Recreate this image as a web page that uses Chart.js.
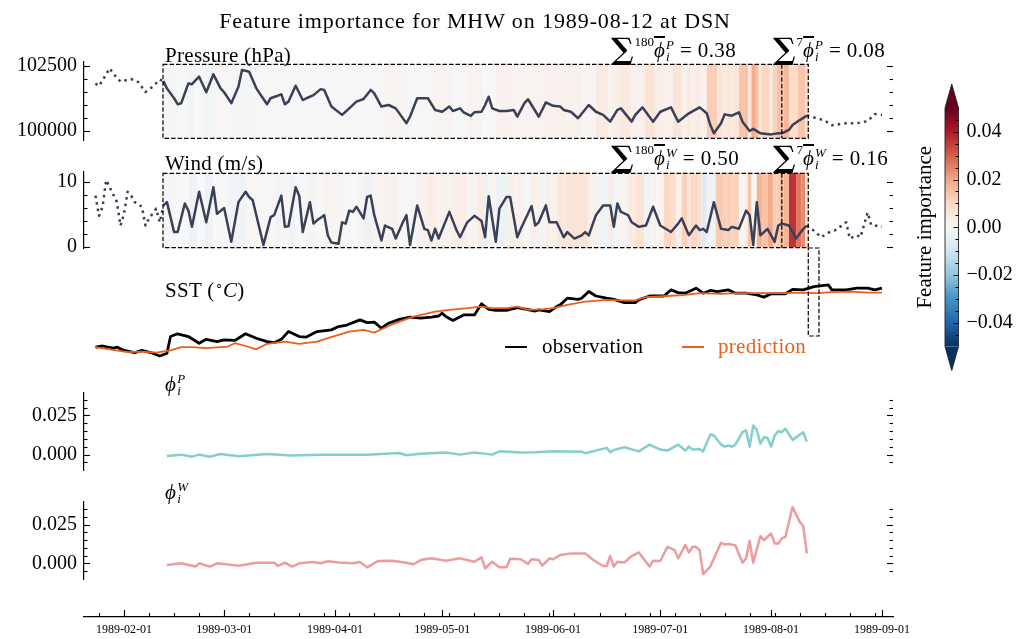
<!DOCTYPE html>
<html><head><meta charset="utf-8">
<script src="https://cdn.jsdelivr.net/npm/chart.js@4.4.1/dist/chart.umd.min.js"></script>
<style>
html,body{margin:0;padding:0;background:#fff;}
#root{position:relative;width:1029px;height:639px;overflow:hidden;font-family:'Liberation Serif','Times New Roman',serif;color:#000;}
canvas{position:absolute;}
.txt{position:absolute;white-space:nowrap;font-size:21px;line-height:21px;letter-spacing:0.3px;z-index:5;}
.title{font-size:22px;line-height:22px;letter-spacing:0.9px;}
.sum{position:absolute;white-space:nowrap;font-size:21px;line-height:30px;height:30px;z-index:5;}
.big{font-family:'DejaVu Serif','Liberation Serif',serif;font-weight:bold;font-size:30px;line-height:0;vertical-align:-2px;}
.sup{font-size:13px;vertical-align:11px;margin-left:1px;}
.phi{font-style:italic;text-decoration:overline;text-decoration-thickness:1.5px;}
.ss{display:inline-block;font-size:13px;font-style:italic;line-height:12px;vertical-align:-4px;margin-left:1px;}
.eq{margin-left:6px;letter-spacing:0.4px;}
.lg{position:absolute;height:0;z-index:5;}
</style></head><body><div id="root">
<div class="txt title" id="title" style="left:475px;top:10px;transform:translateX(-50%);">Feature importance for MHW on 1989-08-12 at DSN</div>
<div class="txt" style="left:165px;top:45px;">Pressure (hPa)</div>
<div class="txt" style="left:165px;top:153px;">Wind (m/s)</div>
<div class="txt" style="left:165px;top:274px;">SST (<span style="font-size:13px;vertical-align:8px;">∘</span><i>C</i>)</div>
<div class="txt" style="left:165px;top:373px;"><i>ϕ</i><span class="ss">P<br>i</span></div>
<div class="txt" style="left:165px;top:481px;"><i>ϕ</i><span class="ss">W<br>i</span></div>

<div class="sum" style="left:611px;top:27px;"><span class="big">∑</span><span class="sup">180</span><span class="phi">ϕ</span><span class="ss">P<br>i</span><span class="eq">= 0.38</span></div>
<div class="sum" style="left:773px;top:27px;"><span class="big">∑</span><span class="sup">7</span><span class="phi">ϕ</span><span class="ss">P<br>i</span><span class="eq">= 0.08</span></div>
<div class="sum" style="left:611px;top:135px;"><span class="big">∑</span><span class="sup">180</span><span class="phi">ϕ</span><span class="ss">W<br>i</span><span class="eq">= 0.50</span></div>
<div class="sum" style="left:773px;top:135px;"><span class="big">∑</span><span class="sup">7</span><span class="phi">ϕ</span><span class="ss">W<br>i</span><span class="eq">= 0.16</span></div>

<div class="lg" style="left:505px;top:346px;width:22px;border-top:2.5px solid #000;"></div>
<div class="txt" style="left:542px;top:336px;">observation</div>
<div class="lg" style="left:682px;top:346px;width:22px;border-top:2.5px solid #e8601c;"></div>
<div class="txt" style="left:718px;top:336px;color:#e8601c;">prediction</div>

<canvas id="cP" width="1029" height="138" style="left:0;top:32px;"></canvas>
<canvas id="cW" width="1029" height="136" style="left:0;top:142px;"></canvas>
<canvas id="cS" width="1029" height="177" style="left:0;top:218px;"></canvas>
<canvas id="cFP" width="1029" height="137" style="left:0;top:363px;"></canvas>
<canvas id="cFW" width="1029" height="137" style="left:0;top:472px;"></canvas>
<canvas id="cX" width="1029" height="79" style="left:0;top:560px;"></canvas>
<canvas id="cCB" width="169" height="340" style="left:860px;top:60px;"></canvas>
</div>
<script>
// ---------------- data (days counted from 1989-02-01) ----------------
const monthTickLabels = ['1989-02-01','1989-03-01','1989-04-01','1989-05-01','1989-06-01','1989-07-01','1989-08-01','1989-09-01'];
const pressureTicks = [100000, 102500];
const windTicks = [0, 10];
const phiTicks = [0, 0.025];
const colorbarTicks = [-0.04, -0.02, 0, 0.02, 0.04];
const sumLabels = ['0.38', '0.08', '0.50', '0.16'];

const pressureBeforeDays = [-8,-7,-4,-3,-1,2,4,6,8,10,11];
const pressureBefore = [101830,101730,102410,102200,101900,102000,101880,101500,101700,101980,101920];
const pressureDays = [11,12,14,15,16,18,19,21,23,25,27,28,30,32,33,35,37,40,41,44,45,46,48,50,51,53,55,56,58,61,63,65,67,69,70,72,74,76,79,80,82,85,87,89,91,92,94,95,97,98,100,101,102,103,105,107,109,110,112,113,114,116,118,120,122,123,125,127,130,132,134,136,138,139,142,143,145,148,150,153,155,158,161,163,164,165,167,168,170,172,173,175,176,178,181,183,184,186,187,189,191];
const pressure = [101920,101640,101260,101030,101070,101830,101800,102090,101490,102180,101640,101490,101070,101700,102350,102280,101640,101030,101260,101410,101030,101130,101740,101190,101260,101380,101610,101580,100940,100620,100870,101130,101230,101580,101450,100940,101000,100870,100300,100550,101260,101260,100810,100740,100940,100770,100870,100720,100580,100720,100740,101000,101320,100870,100770,100770,100810,100550,101070,101220,101000,100550,101100,100970,100940,100810,100740,100490,101000,100740,100620,100360,100810,100870,100360,100620,100910,100360,100740,100910,100360,100680,100910,100680,100230,99910,100300,100640,100590,100720,100360,100000,100080,99910,99870,99910,99910,100040,100230,100420,100590];
const pressureAfterDays = [191,193,196,198,202,205,208,210,212];
const pressureAfter = [100590,100520,100400,100220,100300,100300,100380,100650,100620];

const windBeforeDays = [-8,-7,-6,-5,-4,-2,-1,0,1,2,3,5,6,7,9,10,11];
const windBefore = [7.9,4.8,6.2,10.3,9.2,6.9,3.3,5.1,8.5,7.9,6.9,6.2,3.3,4.4,5.9,3.8,6.4];
const windDays = [11,12,14,15,17,18,19,21,23,25,26,28,30,32,34,35,36,39,41,42,44,45,46,48,49,50,52,53,54,56,57,58,60,61,62,63,64,65,67,68,69,70,72,73,75,76,78,79,80,82,84,85,86,87,88,91,93,94,96,98,100,101,102,104,105,107,108,110,111,114,115,116,118,119,121,123,124,126,128,129,130,132,134,136,137,138,139,141,142,144,146,148,150,153,155,156,158,160,161,162,163,165,167,169,170,172,174,175,176,177,178,180,182,183,184,186,188,190,191];
const wind = [6.4,6.9,2.3,2.3,6.7,5.6,3.1,8.5,3.8,9.2,5.1,6.0,0.8,6.9,8.5,7.7,7.2,0.3,4.6,4.9,7.9,3.1,3.2,9.2,7.9,2.3,6.9,3.6,4.1,4.9,1.8,0.7,0.5,3.8,3.6,5.6,5.4,6.2,4.4,7.7,7.9,4.9,1.0,3.3,2.8,1.3,3.8,4.9,0.3,6.4,2.8,2.6,1.0,2.8,1.3,5.4,2.6,1.5,3.8,4.8,4.0,1.5,7.8,0.8,5.9,7.7,7.7,1.5,2.8,6.3,3.3,3.8,6.4,3.8,3.8,1.5,2.3,1.3,1.8,2.3,1.8,4.9,6.4,6.4,3.1,6.7,5.4,4.9,3.8,3.1,3.3,6.2,3.3,2.3,3.6,4.4,1.8,3.3,2.6,2.8,2.3,6.9,2.8,2.6,3.1,2.8,5.6,4.9,0.3,6.9,1.8,2.8,0.8,3.3,3.6,3.3,1.3,2.8,3.3];
const windAfterDays = [191,193,195,197,199,202,203,205,206,208,209,212];
const windAfter = [3.3,2.5,1.5,2.2,2.6,3.8,1.3,1.8,1.5,5.3,3.4,3.1];

const sstObsDays = [-8,-6,-3,-2,0,3,5,8,10,12,13,15,18,21,23,26,28,31,34,37,40,42,44,46,49,51,54,58,60,62,66,68,70,72,74,77,80,83,86,88,89,90,92,95,98,100,102,104,107,110,115,116,119,121,122,124,127,128,130,132,135,137,140,143,144,147,151,153,155,157,160,162,164,166,169,171,174,177,179,181,184,185,187,190,193,197,198,202,205,208,210,212];
const sstObs = [5.6,5.8,5.4,5.6,5.0,4.6,5.0,4.5,4.0,4.5,7.5,8.0,7.5,6.3,7.0,6.6,6.9,6.8,8.0,7.2,6.6,6.4,7.0,8.4,7.5,7.4,8.4,8.7,9.3,9.5,10.5,10.0,10.1,9.0,9.9,10.6,11.0,10.8,11.0,11.2,11.7,11.1,10.4,11.4,11.4,13.4,12.4,12.2,12.2,12.7,12.1,12.3,12.0,12.9,13.2,14.4,14.2,14.4,15.6,14.8,14.4,14.2,13.6,13.6,14.1,14.8,14.8,15.9,15.4,15.3,16.2,15.3,15.8,15.6,15.9,15.3,15.3,15.0,14.6,15.2,15.2,15.2,16.0,15.9,16.5,16.8,15.9,15.9,16.2,16.2,15.9,16.2];
const sstPredDays = [-8,-4,1,5,9,13,16,19,23,29,31,34,37,40,45,49,54,57,60,63,67,70,74,77,81,87,91,96,100,103,107,110,113,117,120,124,129,135,139,143,146,152,157,161,167,172,178,184,189,194,198,203,208,212];
const sstPred = [5.6,5.2,4.7,4.8,4.6,5.0,5.6,5.6,5.4,5.7,6.3,5.8,5.2,6.2,6.6,6.2,6.6,7.2,7.8,8.4,8.7,8.2,9.4,10.2,11.1,12.0,12.3,12.6,12.9,12.6,12.6,12.9,12.3,12.4,12.6,13.2,13.8,14.1,14.0,14.0,14.6,14.8,15.0,15.3,15.2,15.3,15.3,15.3,15.4,15.3,15.5,15.6,15.4,15.4];

const phiPDays = [12,16,19,21,24,27,32,40,47,55,68,77,79,83,90,94,98,103,105,111,115,120,128,129,135,136,137,140,144,147,150,152,155,157,158,159,161,162,164,165,167,168,169,170,171,173,174,175,176,177,178,179,180,181,182,183,184,185,187,190,191];
const phiP = [-0.0008,0,-0.0013,0,-0.0013,0.0004,-0.001,0.0004,-0.0006,0,0,0.001,-0.0004,0.0005,0.0013,0,0.0013,0,0.0021,0.0013,0.0015,0.0021,0.0019,0.0009,0.0043,0.0015,0.003,0.0047,0.0021,0.0064,0.0032,0.0026,0.0064,0.0026,0.0051,0.0032,0.0036,0.0021,0.0128,0.0122,0.0064,0.0051,0.0058,0.0051,0.0064,0.0143,0.0154,0.0051,0.0186,0.0158,0.0069,0.0111,0.0107,0.0051,0.0122,0.015,0.0143,0.0165,0.0094,0.0143,0.0083];
const phiWDays = [12,16,20,21,24,26,32,37,42,43,45,47,49,53,55,57,60,64,66,68,71,75,79,81,83,86,90,94,98,100,101,103,105,107,108,111,113,114,116,117,119,120,122,125,129,131,134,135,136,137,138,140,142,144,147,148,150,152,154,155,157,158,159,160,161,162,164,167,168,169,171,173,174,175,176,178,179,181,182,183,184,185,187,189,190,191];
const phiW = [-0.0011,0,-0.0021,0,-0.0021,0,-0.0015,0.0004,0.0004,-0.0017,0.0004,-0.0021,0,0.0008,0,0.0013,0.0006,0,0.0008,-0.0026,0.0015,0.0017,0.0004,-0.0006,0.0021,0.0032,0.0017,0.0032,0.001,0.0038,-0.0032,0.001,-0.0026,-0.0026,0.003,0.0026,-0.0004,0.0026,0.0021,-0.0015,0.0032,0.0026,0.0053,0.0064,0.0064,0.0026,-0.0017,-0.0017,0.0047,-0.0021,0.001,0.0006,0.0047,0.007,-0.0021,0.0017,0.0015,0.0106,0.0085,0.0032,0.0117,0.007,0.0106,0.0106,0.0085,-0.0069,-0.0021,0.0132,0.0122,0.0124,0.0117,0.0004,0.0032,0.0145,0.0004,0.0175,0.0149,0.0192,0.0128,0.0128,0.016,0.017,0.0363,0.0267,0.024,0.0064];

// window markers (days from 1989-02-01)
const windowStart = 10.9, windowEnd = 191.4, lastWeekStart = 184.0;
const targetStart = 191.4, targetEnd = 194.4;

// ---------------- helpers ----------------
const FONT = "'Liberation Serif','Times New Roman',serif";
const XMIN = -11.2, XMAX = 215.1;
const LINE = '#3a4157', OBS = '#000000', PRED = '#e8601c', PC = '#84cfcc', WC = '#ec9c9c';
const RDBU_R = ['#053061','#2166ac','#4393c3','#92c5de','#d1e5f0','#f7f7f7','#fddbc7','#f4a582','#d6604d','#b2182b','#67001f'];
const VMIN = -0.05, VMAX = 0.05;
function hex2rgb(h){return [1,3,5].map(i=>parseInt(h.substr(i,2),16));}
function cmap(v){
  let t=(v-VMIN)/(VMAX-VMIN); t=Math.max(0,Math.min(1,t));
  const s=t*10, i=Math.min(9,Math.floor(s)), f=s-i;
  const a=hex2rgb(RDBU_R[i]), b=hex2rgb(RDBU_R[i+1]);
  return 'rgb('+a.map((c,k)=>Math.round(c+(b[k]-c)*f)).join(',')+')';
}
const pts = (d,v)=>d.map((x,i)=>({x:x,y:v[i]}));
function cells(days){
  return days.map((d,i)=>({x:[i===0?windowStart:(days[i-1]+d)/2, i===days.length-1?windowEnd:(d+days[i+1])/2], y:'c'}));
}
const dayOf = s => (Date.UTC(+s.slice(0,4), +s.slice(5,7)-1, +s.slice(8,10)) - Date.UTC(1989,1,1))/86400000;
const monthDays = monthTickLabels.map(dayOf);
const weekDays = []; for(let d=-7; d<=XMAX; d+=7) weekDays.push(d);

// inward tick marks
const inTicks = {
  id:'inTicks',
  afterDraw(chart, args, o){
    if(!o || !o.enabled) return;
    const c=chart.ctx, a=chart.chartArea;
    c.save(); c.strokeStyle='#000'; c.lineWidth=1.1; c.setLineDash([]);
    const ln=(x1,y1,x2,y2)=>{c.beginPath();c.moveTo(x1,y1);c.lineTo(x2,y2);c.stroke();};
    if(o.y){
      const ys=chart.scales[o.yId||'y'];
      const draw=(arr,len)=>arr.forEach(v=>{const p=Math.round(ys.getPixelForValue(v))+0.5;
        if(o.left) ln(a.left,p,a.left+len,p);
        if(o.right) ln(a.right,p,a.right-len,p);});
      draw(o.y.major,o.majLen||6); draw(o.y.minor,o.minLen||3.5);
    }
    if(o.x){
      const xs=chart.scales.x;
      const draw=(arr,len)=>arr.forEach(v=>{const p=Math.round(xs.getPixelForValue(v))+0.5; ln(p,a.bottom,p,a.bottom-len);});
      draw(o.x.major,7); draw(o.x.minor,4);
    }
    c.restore();
  }
};
// dashed boxes marking the window
const deco = {
  id:'deco',
  afterDatasetsDraw(chart, args, o){
    if(!o || !o.enabled) return;
    const c=chart.ctx, a=chart.chartArea, xs=chart.scales.x;
    c.save(); c.strokeStyle='#000'; c.lineWidth=1.2; c.setLineDash([4.5,2]);
    if(o.box){
      const h=(a.bottom-a.top)*o.box.frac, cy=(a.top+a.bottom)/2+(o.box.shift||0);
      const t=cy-h/2, b=cy+h/2, l=xs.getPixelForValue(windowStart), r=xs.getPixelForValue(windowEnd);
      c.strokeRect(l,t,r-l,b-t);
      const v=xs.getPixelForValue(lastWeekStart);
      c.beginPath(); c.moveTo(v,t); c.lineTo(v,b); c.stroke();
    }
    if(o.target){
      const l=xs.getPixelForValue(targetStart), r=xs.getPixelForValue(targetEnd);
      const b=chart.scales.y.getPixelForValue(o.target.bottom);
      c.strokeRect(l,a.top,r-l,b-a.top);
    }
    c.restore();
  }
};
Chart.register(inTicks, deco);
Chart.defaults.font.family = FONT;
Chart.defaults.color = '#000';

const PAD = 30;
function yAxis(min,max,ticks,fmt,show){
  return {type:'linear', min:min, max:max, display:show, position:'left',
    grid:{display:false, drawTicks:false}, border:{display:true, color:'#000', width:1.2},
    ticks:{font:{family:FONT,size:20}, color:'#000', padding:7, callback:fmt},
    afterBuildTicks:s=>{s.ticks=ticks.map(v=>({value:v}));},
    afterFit:s=>{s.width=84;}};
}
const xAxis = {type:'linear', min:XMIN, max:XMAX, display:false};
const ycat = {type:'category', labels:['c'], display:false, offset:true};
function heat(days, vals, frac){
  return {type:'bar', indexAxis:'y', xAxisID:'x', yAxisID:'yc', data:cells(days),
    backgroundColor:vals.map(cmap), borderWidth:0, barPercentage:frac, categoryPercentage:1, order:10, grouped:false};
}
function line(d,v,color,w,dash,order){
  return {type:'line', xAxisID:'x', yAxisID:'y', data:pts(d,v), borderColor:color, borderWidth:w,
    borderDash:dash||[], pointRadius:0, fill:false, tension:0, order:order||1,
    borderCapStyle:'butt', borderJoinStyle:'round'};
}
function base(pl){
  return {responsive:false, animation:false, events:[], devicePixelRatio:1,
    layout:{padding:pl},
    plugins:{legend:{display:false}, tooltip:{enabled:false}}};
}

// ---------- Pressure ----------
(function(){
  const o=base({top:PAD,bottom:PAD,left:0,right:136});
  o.scales={x:xAxis, y:yAxis(99654,102654,pressureTicks,v=>String(v),true), yc:ycat};
  o.plugins.inTicks={enabled:true,left:true,right:true,y:{major:pressureTicks,minor:[100500,101000,101500,102000]}};
  o.plugins.deco={enabled:true, box:{frac:0.949, shift:0.3}};
  new Chart(document.getElementById('cP'),{type:'line',data:{datasets:[
    line(pressureBeforeDays,pressureBefore,LINE,2.5,[2.5,4.1]),
    line(pressureAfterDays,pressureAfter,LINE,2.5,[2.5,4.1]),
    line(pressureDays,pressure,LINE,2.5),
    heat(phiPDays,phiP,0.949)
  ]},options:o});
})();
// ---------- Wind ----------
(function(){
  const o=base({top:PAD,bottom:PAD,left:0,right:136});
  o.scales={x:xAxis, y:yAxis(-0.154,11.54,windTicks,v=>String(v),true), yc:ycat};
  o.plugins.inTicks={enabled:true,left:true,right:true,y:{major:windTicks,minor:[2,4,6,8]}};
  o.plugins.deco={enabled:true, box:{frac:0.979, shift:0.5}};
  new Chart(document.getElementById('cW'),{type:'line',data:{datasets:[
    line(windBeforeDays,windBefore,LINE,2.5,[2.5,4.1]),
    line(windAfterDays,windAfter,LINE,2.5,[2.5,4.1]),
    line(windDays,wind,LINE,2.5),
    heat(phiWDays,phiW,0.979)
  ]},options:o});
})();
// ---------- SST ----------
(function(){
  const o=base({top:PAD,bottom:PAD,left:84,right:136});
  o.scales={x:xAxis, y:{type:'linear',min:2.38,max:23.44,display:false}};
  o.plugins.deco={enabled:true, target:{bottom:7.6}};
  new Chart(document.getElementById('cS'),{type:'line',data:{datasets:[
    line(sstPredDays,sstPred,PRED,1.8,null,1),
    line(sstObsDays,sstObs,OBS,2.8,null,2)
  ]},options:o});
})();
// ---------- phi panels ----------
function phiPanel(id,days,vals,color,min,max){
  const o=base({top:PAD,bottom:PAD,left:0,right:136});
  o.scales={x:xAxis, y:yAxis(min,max,phiTicks,v=>v.toFixed(3),true)};
  o.plugins.inTicks={enabled:true,left:true,right:true,y:{major:phiTicks,minor:[-0.005,0.005,0.01,0.015,0.02,0.03,0.035]}};
  new Chart(document.getElementById(id),{type:'line',data:{datasets:[line(days,vals,color,2.5)]},options:o});
}
phiPanel('cFP',phiPDays,phiP,PC,-0.0098,0.0393);
phiPanel('cFW',phiWDays,phiW,WC,-0.0101,0.0395);
// ---------- bottom date axis ----------
(function(){
  const o=base({top:40,bottom:0,left:84,right:136});
  o.scales={
    x:{type:'linear',min:XMIN,max:XMAX,position:'bottom',display:true,
      grid:{display:false,drawTicks:false}, border:{display:true,color:'#000',width:1.2},
      ticks:{font:{family:FONT,size:12},color:'#000',padding:6,autoSkip:false,maxRotation:0,
        callback:(v,i)=>monthTickLabels[i]},
      afterBuildTicks:s=>{s.ticks=monthDays.map(v=>({value:v}));},
      afterFit:s=>{s.height=22;}},
    y:{type:'linear',min:0,max:1,display:false}};
  o.plugins.inTicks={enabled:true,x:{major:monthDays,minor:weekDays}};
  new Chart(document.getElementById('cX'),{type:'line',data:{datasets:[]},options:o});
})();
// ---------- colorbar ----------
(function(){
  const cbDeco={id:'cbDeco',afterDatasetsDraw(chart){
    const c=chart.ctx,a=chart.chartArea,ys=chart.scales.y;
    const l=a.left,r=a.right,t=ys.getPixelForValue(VMAX),b=ys.getPixelForValue(VMIN),m=(l+r)/2,ext=24;
    c.save();
    c.fillStyle=cmap(VMAX+1); c.beginPath(); c.moveTo(l,t); c.lineTo(m,t-ext); c.lineTo(r,t); c.closePath(); c.fill();
    c.fillStyle=cmap(VMIN-1); c.beginPath(); c.moveTo(l,b); c.lineTo(m,b+ext); c.lineTo(r,b); c.closePath(); c.fill();
    c.strokeStyle='#222'; c.lineWidth=0.9;
    c.beginPath(); c.moveTo(l,t); c.lineTo(m,t-ext); c.lineTo(r,t); c.lineTo(r,b); c.lineTo(m,b+ext); c.lineTo(l,b); c.closePath(); c.stroke();
    c.strokeStyle='#000'; c.lineWidth=1;
    const tk=(v,len)=>{const p=Math.round(ys.getPixelForValue(v))+0.5; c.beginPath(); c.moveTo(r,p); c.lineTo(r-len,p); c.stroke();};
    colorbarTicks.forEach(v=>tk(v,5));
    [-0.045,-0.035,-0.03,-0.025,-0.015,-0.01,-0.005,0.005,0.01,0.015,0.025,0.03,0.035,0.045].forEach(v=>tk(v,3));
    c.restore();
  }};
  const o=base({top:48,bottom:53.5,left:45,right:0});
  o.scales={
    x:{type:'category',labels:['cb'],display:false,offset:true},
    y:{type:'linear',min:VMIN,max:VMAX,position:'right',grid:{display:false,drawTicks:false},border:{display:false},
      ticks:{font:{family:FONT,size:20},color:'#000',padding:8,callback:v=>(v<0?'\u2212':'')+Math.abs(v).toFixed(2)},
      afterBuildTicks:s=>{s.ticks=colorbarTicks.map(v=>({value:v}));}, afterFit:s=>{s.width=70.5;}},
    yl:{type:'linear',min:VMIN,max:VMAX,position:'left',grid:{display:false,drawTicks:false},border:{display:false},
      ticks:{display:false},title:{display:true,text:'Feature importance',font:{family:FONT,size:21},color:'#000',padding:{top:7.4,bottom:0}},
      afterFit:s=>{s.width=40;}}
  };
  new Chart(document.getElementById('cCB'),{type:'bar',data:{labels:['cb'],datasets:[{
    data:[[VMIN,VMAX]], yAxisID:'y', borderWidth:0, barPercentage:1, categoryPercentage:1,
    backgroundColor:(ctx)=>{const ch=ctx.chart, a=ch.chartArea; if(!a) return '#f7f7f7';
      const ys=ch.scales.y; const g=ch.ctx.createLinearGradient(0,ys.getPixelForValue(VMIN),0,ys.getPixelForValue(VMAX));
      RDBU_R.forEach((col,i)=>g.addColorStop(i/10,col)); return g;}
  }]},options:o,plugins:[cbDeco]});
})();
</script>
</body></html>
